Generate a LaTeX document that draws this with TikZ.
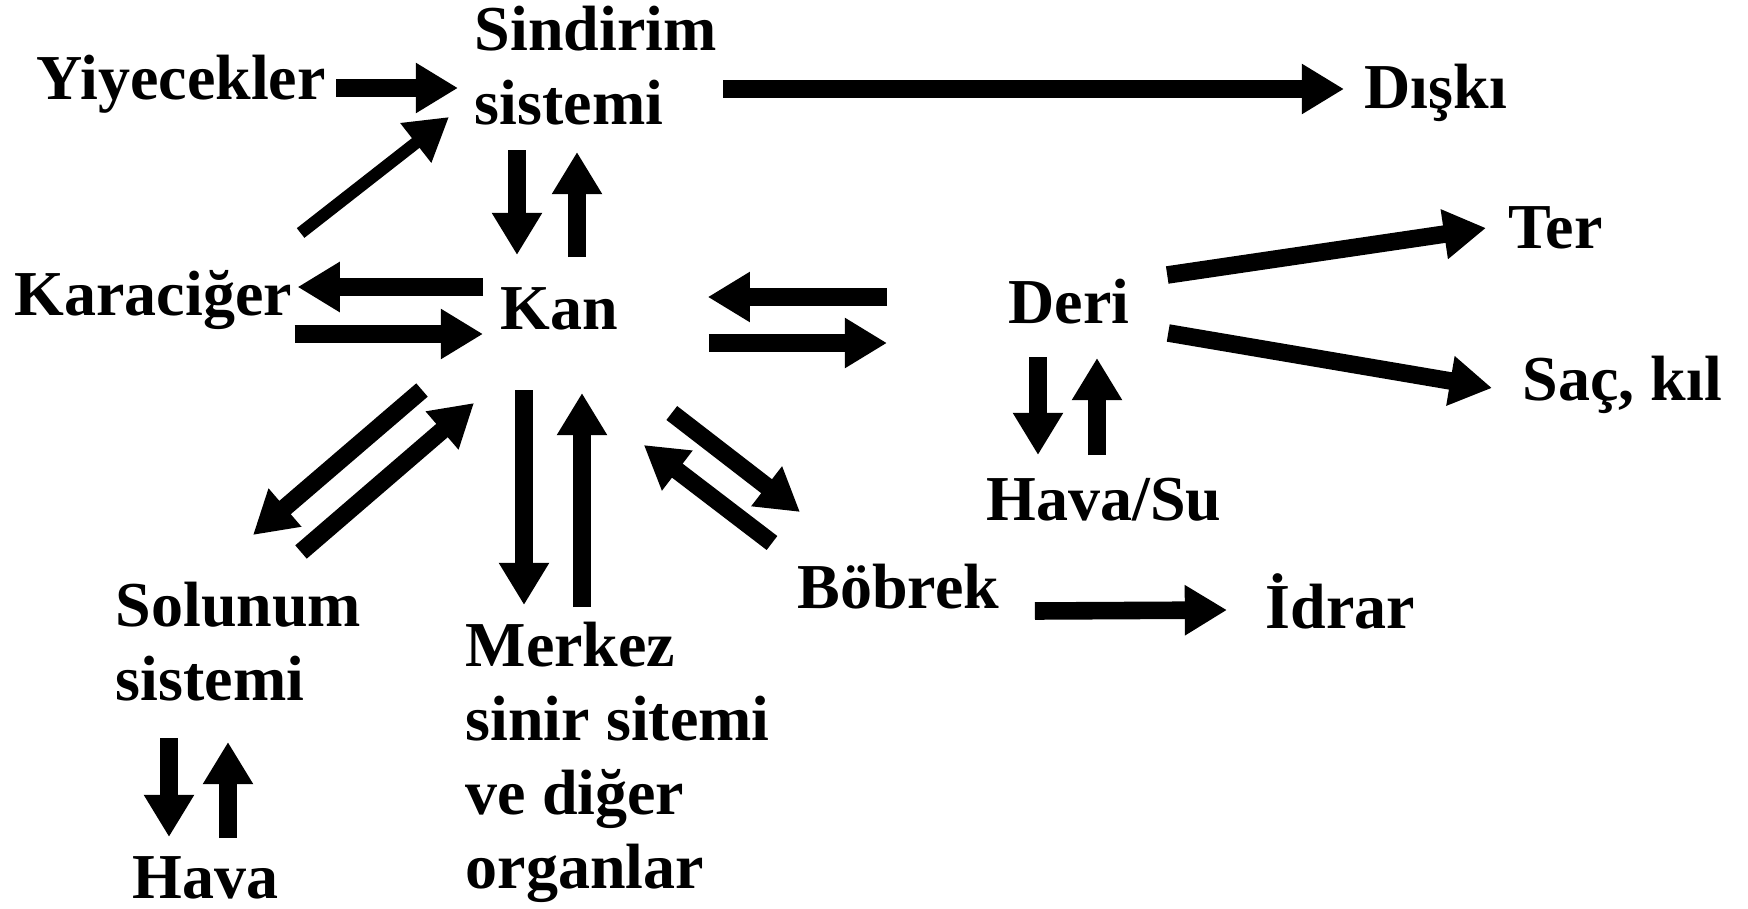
\documentclass[tikz,border=0pt]{standalone}
\usepackage{fontspec}
\setmainfont{Liberation Serif}
\usetikzlibrary{arrows.meta}
\tikzset{organ/.style={inner sep=0pt,anchor=base west,align=left,font=\fontsize{18.2}{21}\selectfont\bfseries},
	flow/.style={line width=5pt,-{Triangle[length=12pt,width=13.5pt]}},
	thin flow/.style={flow,line width=3.5pt}}

\begin{document}
\begin{tikzpicture}[x=0.01cm,y=-0.01cm]
	\useasboundingbox (0,0) rectangle (1748,909);
	\node[organ] (yiy) at (36,99) {Yiyecekler};
	\node[organ] (sind) at (474,124) {Sindirim\\sistemi};
	\node[organ] (diski) at (1364,108) {Dışkı};
	\node[organ] (kara) at (14,315) {Karaciğer};
	\node[organ] (kan) at (500,329) {Kan};
	\node[organ] (deri) at (1008,323) {Deri};
	\node[organ] (ter) at (1508,248) {Ter};
	\node[organ] (sac) at (1522,400) {Saç, kıl};
	\node[organ] (havasu) at (986,520) {Hava/Su};
	\node[organ] (bob) at (797,608) {Böbrek};
	\node[organ] (idrar) at (1265,628) {İdrar};
	\node[organ] (solu) at (115,700) {Solunum\\sistemi};
	\node[organ] (merk) at (465,888) {Merkez\\sinir sitemi\\ve diğer\\organlar};
	\node[organ] (hava) at (132,898) {Hava};

	\draw[flow] ([shift={(10,-11)}]yiy.base east) -- ([shift={(-16,-36)}]sind.base west);
	\draw[flow] ([shift={(249,-35)}]sind.base west) -- ([shift={(-20,-19)}]diski.base west);
	\draw[thin flow] ([shift={(8,-82)}]kara.base east) -- ([shift={(-25,-7)}]sind.base west);
	\draw[flow] ([shift={(43,26)}]sind.base west) -- ([shift={(17,-74)}]kan.base west);
	\draw[flow] ([shift={(77,-72)}]kan.base west) -- ([shift={(103,28)}]sind.base west);
	\draw[flow] ([shift={(-17,-42)}]kan.base west) -- ([shift={(5,-28)}]kara.base east);
	\draw[flow] ([shift={(2,19)}]kara.base east) -- ([shift={(-17,5)}]kan.base west);
	\draw[flow] ([shift={(-121,-26)}]deri.base west) -- ([shift={(89,-32)}]kan.base east);
	\draw[flow] ([shift={(90,14)}]kan.base east) -- ([shift={(-121,20)}]deri.base west);
	\draw[flow] ([shift={(37,-48)}]deri.base east) -- ([shift={(-22,-20)}]ter.base west);
	\draw[flow] ([shift={(38,10)}]deri.base east) -- ([shift={(-30,-12)}]sac.base west);
	\draw[flow] ([shift={(30,34)}]deri.base west) -- ([shift={(52,-65)}]havasu.base west);
	\draw[flow] ([shift={(111,-65)}]havasu.base west) -- ([shift={(89,35)}]deri.base west);
	\draw[flow] ([shift={(-78,61)}]kan.base west) -- ([shift={(138,-165)}]solu.base west);
	\draw[flow] ([shift={(186,-148)}]solu.base west) -- ([shift={(-26,74)}]kan.base west);
	\draw[flow] ([shift={(24,61)}]kan.base west) -- ([shift={(59,-283)}]merk.base west);
	\draw[flow] ([shift={(117,-281)}]merk.base west) -- ([shift={(82,64)}]kan.base west);
	\draw[flow] ([shift={(53,84)}]kan.base east) -- ([shift={(3,-96)}]bob.base west);
	\draw[flow] ([shift={(-25,-65)}]bob.base west) -- ([shift={(25,116)}]kan.base east);
	\draw[flow] ([shift={(35,3)}]bob.base east) -- ([shift={(-38,-18)}]idrar.base west);
	\draw[flow] ([shift={(54,38)}]solu.base west) -- ([shift={(37,-61)}]hava.base west);
	\draw[flow] ([shift={(96,-60)}]hava.base west) -- ([shift={(113,42)}]solu.base west);
\end{tikzpicture}
\end{document}
